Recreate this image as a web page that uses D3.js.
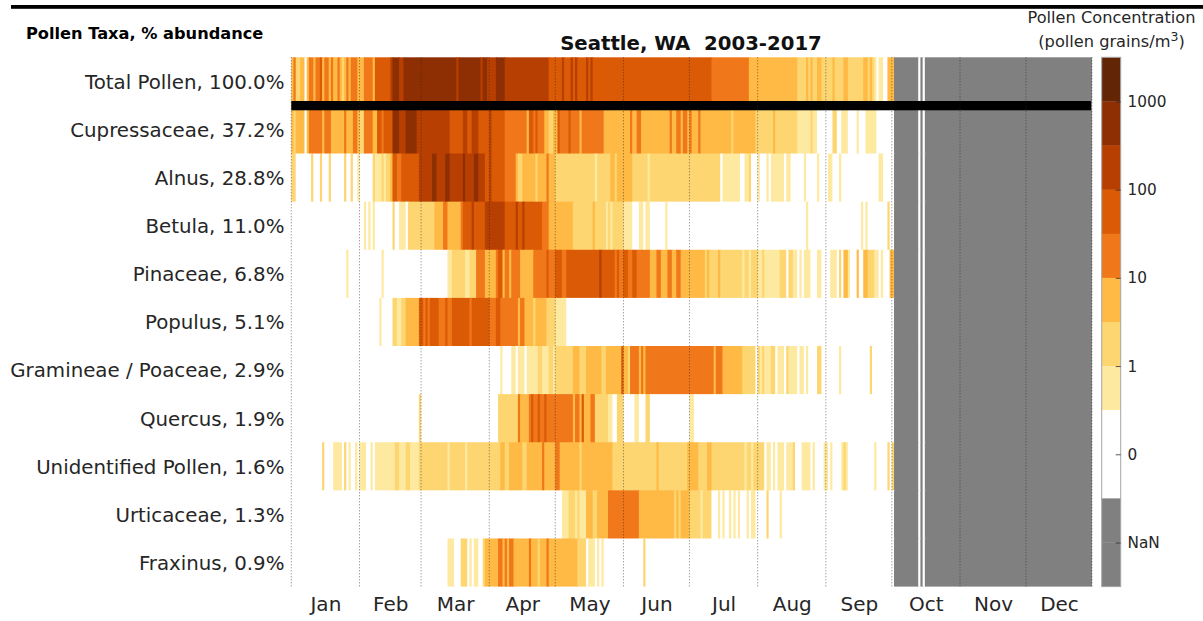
<!DOCTYPE html>
<html><head><meta charset="utf-8">
<script src="https://cdn.jsdelivr.net/npm/d3@7/dist/d3.min.js"></script>
<style>html,body{margin:0;padding:0;background:#fff}svg{display:block}text{font-family:"DejaVu Sans",sans-serif}</style>
</head><body><svg id="c" width="1203" height="621"></svg>
<script>
const taxa = ["Total Pollen, 100.0%","Cupressaceae, 37.2%","Alnus, 28.8%","Betula, 11.0%","Pinaceae, 6.8%","Populus, 5.1%","Gramineae / Poaceae, 2.9%","Quercus, 1.9%","Unidentified Pollen, 1.6%","Urticaceae, 1.3%","Fraxinus, 0.9%"];
const months = ["Jan","Feb","Mar","Apr","May","Jun","Jul","Aug","Sep","Oct","Nov","Dec"];
const monthStarts = [0,31,59,90,120,151,181,212,243,273,304,334,364];
// Runs: [first day of year, concentration class], class 0 = no pollen, 1..8 = binned log concentration
const totalPollen = [[0,3],[1,4],[2,2],[4,3],[6,0],[7,3],[8,4],[10,3],[11,4],[13,5],[14,3],[15,4],[17,3],[18,4],[19,3],[21,4],[22,3],[23,2],[24,3],[25,4],[26,3],[27,4],[30,3],[33,4],[37,3],[38,5],[45,6],[46,7],[49,6],[51,7],[75,6],[76,7],[86,6],[87,7],[89,6],[93,7],[97,6],[117,5],[123,6],[124,5],[127,6],[128,5],[129,6],[130,5],[134,6],[135,5],[136,6],[137,5],[191,4],[208,3],[230,2],[234,3],[235,2],[236,3],[237,2],[239,3],[241,2],[246,3],[247,2],[251,3],[253,2],[260,3],[262,2],[263,3],[264,2],[265,1],[266,0],[267,1],[269,0],[271,3]];
const cupressaceae = [[0,3],[1,2],[2,3],[6,0],[7,3],[8,4],[14,3],[15,4],[18,3],[24,4],[25,3],[28,4],[30,3],[31,2],[33,4],[37,3],[39,5],[41,4],[42,5],[46,7],[49,6],[52,7],[57,6],[72,5],[78,6],[80,5],[82,6],[85,5],[90,6],[91,5],[97,4],[107,3],[108,5],[110,4],[111,5],[112,4],[115,3],[117,2],[119,3],[121,5],[122,4],[126,5],[127,4],[131,3],[132,4],[142,3],[154,4],[155,3],[157,4],[159,3],[172,4],[173,3],[175,4],[177,3],[178,4],[180,3],[181,4],[182,3],[185,4],[186,3],[200,2],[201,3],[211,2],[219,3],[220,2],[230,1],[236,2],[237,1],[239,0],[246,2],[248,0],[250,1],[253,0],[257,1],[258,0],[261,1],[266,0]];
const alnus = [[0,2],[2,0],[9,2],[10,0],[13,2],[14,0],[17,2],[18,0],[24,2],[25,0],[27,2],[28,0],[30,1],[31,0],[37,2],[38,1],[41,2],[42,1],[43,2],[45,3],[46,5],[48,4],[50,5],[58,6],[64,7],[66,6],[70,7],[72,6],[78,7],[79,6],[83,7],[85,6],[88,5],[90,6],[91,5],[97,4],[102,3],[103,2],[105,3],[111,2],[112,3],[116,4],[117,3],[120,2],[138,1],[139,2],[145,3],[147,2],[148,3],[155,2],[162,1],[163,2],[195,0],[196,1],[204,0],[206,1],[208,2],[209,0],[212,1],[213,0],[216,1],[217,0],[218,1],[224,0],[225,1],[227,0],[233,1],[234,0],[239,1],[240,0],[244,1],[246,0],[249,1],[250,0],[267,1],[269,0]];
const betula = [[0,0],[33,1],[34,0],[35,1],[36,0],[37,1],[38,0],[46,2],[47,0],[49,1],[52,0],[53,2],[65,3],[69,4],[71,3],[77,4],[78,5],[82,6],[83,5],[88,6],[97,5],[102,6],[103,5],[105,6],[106,5],[114,4],[117,3],[128,2],[137,3],[138,2],[143,1],[144,2],[145,1],[146,2],[151,1],[155,0],[158,1],[160,0],[161,1],[163,0],[170,1],[171,0],[234,1],[235,0],[259,1],[260,0],[261,1],[262,0],[271,2],[272,0]];
const pinaceae = [[0,0],[25,1],[26,0],[41,1],[42,0],[71,1],[73,2],[79,1],[81,2],[84,4],[88,3],[93,4],[94,5],[96,3],[97,4],[99,3],[100,4],[104,3],[110,4],[116,5],[117,4],[120,5],[123,4],[125,5],[140,6],[141,5],[147,4],[148,5],[149,4],[151,5],[153,4],[155,5],[157,4],[163,3],[166,4],[168,3],[171,4],[173,3],[175,4],[177,3],[188,2],[189,3],[190,2],[194,3],[195,2],[205,1],[206,2],[208,1],[209,2],[212,1],[214,2],[215,1],[222,2],[225,0],[226,2],[228,1],[230,0],[231,1],[232,0],[233,1],[236,0],[239,1],[241,0],[245,1],[248,0],[249,2],[250,0],[251,3],[253,1],[254,0],[257,3],[258,0],[260,3],[262,2],[265,1],[267,0],[268,1],[269,0],[272,3]];
const populus = [[0,0],[40,1],[41,0],[46,2],[48,1],[50,2],[52,3],[58,5],[60,4],[61,5],[62,4],[63,5],[67,4],[70,5],[71,4],[73,5],[81,4],[82,5],[90,4],[93,5],[95,4],[103,3],[104,4],[106,3],[110,2],[111,3],[116,2],[120,1],[125,0]];
const gramineae = [[0,0],[95,1],[96,0],[100,1],[102,0],[103,1],[106,0],[107,1],[112,2],[114,1],[117,2],[119,1],[120,2],[128,3],[131,2],[134,3],[141,2],[143,3],[150,5],[151,3],[153,2],[154,4],[158,3],[159,4],[160,3],[161,4],[192,3],[193,4],[196,3],[205,2],[211,0],[212,2],[213,1],[214,2],[215,1],[218,2],[220,0],[221,1],[224,0],[225,2],[226,1],[230,0],[231,1],[233,0],[234,1],[235,0],[239,2],[241,0],[249,1],[250,0],[263,2],[264,0]];
const quercus = [[0,0],[58,2],[59,0],[94,2],[103,4],[104,3],[108,4],[109,5],[110,4],[112,5],[113,4],[115,5],[116,4],[128,3],[129,4],[131,3],[132,5],[133,3],[136,4],[138,2],[144,1],[146,0],[148,2],[151,0],[156,1],[158,0],[161,2],[163,0],[181,1],[183,0]];
const unidentified = [[0,0],[14,2],[15,0],[19,1],[23,0],[24,2],[25,0],[26,1],[27,0],[29,1],[30,0],[31,1],[34,0],[36,1],[37,0],[38,1],[47,2],[49,1],[52,2],[54,1],[58,2],[71,1],[72,2],[79,1],[80,2],[95,3],[97,2],[99,3],[105,2],[107,3],[114,4],[115,3],[120,4],[122,3],[131,2],[132,3],[146,2],[166,3],[167,2],[180,3],[185,2],[189,3],[191,2],[206,1],[207,2],[209,1],[210,2],[215,0],[216,1],[218,0],[219,1],[220,0],[221,1],[224,0],[225,1],[228,2],[229,0],[232,1],[236,0],[237,1],[238,0],[242,1],[244,0],[245,1],[246,0],[250,1],[251,2],[252,1],[253,0],[265,1],[266,0],[271,2],[272,0],[273,2]];
const urticaceae = [[0,0],[123,1],[126,2],[129,1],[130,2],[131,1],[134,3],[137,2],[139,3],[144,4],[158,3],[174,2],[175,3],[176,2],[177,3],[181,2],[186,1],[187,2],[191,0],[194,1],[195,0],[196,1],[197,0],[199,1],[200,0],[201,1],[202,0],[203,1],[204,0],[207,1],[208,0],[209,1],[211,0],[216,2],[217,0],[222,1],[223,0]];
const fraxinus = [[0,0],[71,1],[74,0],[77,2],[80,0],[81,1],[82,0],[83,1],[85,0],[87,2],[88,3],[94,4],[96,3],[97,4],[98,3],[99,4],[101,3],[108,4],[109,3],[112,2],[113,3],[116,4],[117,3],[130,2],[134,0],[135,1],[138,0],[139,1],[140,0],[141,1],[142,0],[160,2],[161,0]];
const seriesRuns = [totalPollen,cupressaceae,alnus,betula,pinaceae,populus,gramineae,quercus,unidentified,urticaceae,fraxinus];
// After the season: no sampling (NaN), apart from two sampled days
const offSeason = [[274,NaN],[285,0],[286,NaN],[287,0],[288,NaN]];
const lastDay = 364;
const classColors = ["#ffffff","#fee9a0","#fdd671","#feba44","#f0771a","#da5a06","#b83f02","#8e2f03","#622506"];
const nanColor = "#808080";
// Colour bar bins, top to bottom
const barBins = [8,7,6,5,4,3,2,1,0,0,NaN,NaN];
const barTickValues = [1,3,5,7,9,11];
const barTickLabels = ["1000","100","10","1","0","NaN"];

const svg = d3.select("#c");
const x = d3.scaleLinear().domain([0,lastDay]).range([291.3,1092]);
const y = d3.scaleBand().domain(taxa).range([57.3,586.6]);
const color = v => Number.isNaN(v) ? nanColor : classColors[v];

function expand(runs,row){
  const all = runs.concat(offSeason);
  return all.map((r,i)=>({start:r[0],end:i+1<all.length?all[i+1][0]:lastDay,v:r[1],row}));
}
svg.selectAll("g.row").data(seriesRuns).join("g").attr("class","row")
  .attr("transform",(d,i)=>`translate(0,${y(taxa[i])})`)
  .selectAll("rect").data((d,i)=>expand(d,i)).join("rect")
  .attr("x",d=>x(d.start)).attr("width",d=>x(d.end)-x(d.start)+(d.end<lastDay?1:0)).attr("y",0)
  .attr("height",d=>y.bandwidth()+(d.row<taxa.length-1?1:0))
  .attr("fill",d=>color(d.v));

// thick black separator under the total row
svg.append("rect").attr("x",x(0)).attr("width",x(lastDay)-x(0)-1).attr("y",101).attr("height",9.3).attr("fill","#000");

// month gridlines
svg.append("g").selectAll("line").data(monthStarts).join("line")
  .attr("x1",d=>x(d)).attr("x2",d=>x(d)).attr("y1",57.3).attr("y2",587)
  .attr("stroke","#222").attr("stroke-opacity",0.6).attr("stroke-width",1).attr("stroke-dasharray","1 2");

// month axis
const xAxisScale = d3.scaleOrdinal().domain(months).range(months.map((m,i)=>x((monthStarts[i]+monthStarts[i+1])/2)));
const xAxis = d3.axisBottom(xAxisScale).tickSize(0).tickPadding(0);
const gx = svg.append("g").attr("transform","translate(0,597)").call(xAxis);
gx.select(".domain").remove();
gx.selectAll("text").attr("font-size",20).attr("fill","#262626").attr("dy","0.71em").attr("y",0);

// taxa axis
const gy = svg.append("g").attr("transform","translate(284.5,1)").call(d3.axisLeft(y).tickSize(0).tickPadding(0));
gy.select(".domain").remove();
gy.selectAll("text").attr("font-size",19.8).attr("fill","#262626");

// titles
svg.append("rect").attr("x",11).attr("y",5).attr("width",1192).attr("height",3.8).attr("fill","#000");
svg.append("text").attr("x",691).attr("y",50).attr("text-anchor","middle").attr("font-size",19.7).attr("font-weight","bold").attr("fill","#111").attr("xml:space","preserve").text("Seattle, WA  2003-2017");
svg.append("text").attr("x",26).attr("y",39).attr("font-size",16.2).attr("font-weight","bold").attr("fill","#000").text("Pollen Taxa, % abundance");
svg.append("text").attr("x",1111.5).attr("y",23).attr("text-anchor","middle").attr("font-size",16.2).attr("fill","#262626").text("Pollen Concentration");
const t2 = svg.append("text").attr("x",1111.5).attr("y",47).attr("text-anchor","middle").attr("font-size",16.2).attr("fill","#262626");
t2.append("tspan").text("(pollen grains/m");
t2.append("tspan").attr("dy",-6).attr("font-size",12.5).text("3");
t2.append("tspan").attr("dy",6).text(")");

// colour bar
const barY = d3.scaleLinear().domain([0,barBins.length]).range([57.3,586.6]);
const barX = 1101.7, barW = 19;
svg.append("g").selectAll("rect").data(barBins).join("rect")
  .attr("x",barX).attr("width",barW).attr("y",(d,i)=>barY(i)).attr("height",barY(1)-barY(0)+0.3).attr("fill",color);
svg.append("rect").attr("x",barX).attr("y",57.3).attr("width",barW).attr("height",529.3).attr("fill","none").attr("stroke","#a6a6a6").attr("stroke-width",1);
const barAxis = d3.axisLeft(barY).tickValues(barTickValues).tickSize(5).tickFormat("");
const gb = svg.append("g").attr("transform",`translate(${barX+barW},0)`).call(barAxis);
gb.select(".domain").remove();
gb.selectAll("line").attr("stroke","#262626").attr("stroke-opacity",0.75);
svg.append("g").selectAll("text").data(barTickValues).join("text")
  .attr("x",1127.5).attr("y",d=>barY(d)).attr("dy","0.36em").attr("font-size",15.3).attr("fill","#262626").text((d,i)=>barTickLabels[i]);
</script></body></html>
